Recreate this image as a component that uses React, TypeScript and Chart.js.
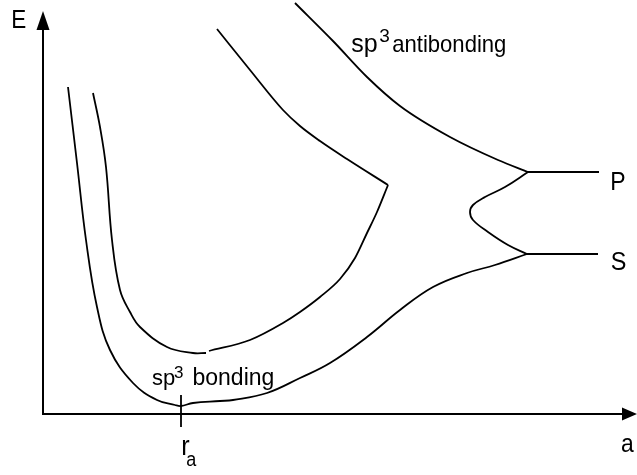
import { useEffect, useRef } from "react";
import { Chart, registerables } from "chart.js";

Chart.register(...registerables);

type Pt = [number, number];

// Energy curves E(a); origin sits at the corner of the axes.
const bondingLower: Pt[] = [
  [25, 327], [34, 251], [43, 174], [54, 107], [67, 64], [90, 31], [114, 14],
  [132, 9], [138, 8], [150, 11], [177, 13], [190, 14], [224, 21], [257, 36],
  [287, 51], [324, 77], [357, 104], [390, 127], [424, 141], [452, 149], [484, 160],
];
const bondingUpperLeft: Pt[] = [
  [50, 321], [57, 287], [63, 247], [69, 174], [77, 124], [87, 102], [97, 87],
  [124, 67], [150, 61], [163, 61],
];
const bondingUpperRight: Pt[] = [
  [166, 63], [207, 74], [240, 91], [257, 102], [277, 117], [297, 135],
  [312, 156], [324, 181], [334, 202], [345, 229],
];
const returnBranch: Pt[] = [
  [174, 385], [207, 344], [240, 304], [257, 288], [277, 273], [304, 255], [345, 229],
];
const antibonding: Pt[] = [
  [252, 411], [290, 373], [324, 337], [357, 308], [407, 277], [455, 254], [485, 242],
];
const crossing: Pt[] = [
  [485, 242], [462, 227], [442, 217], [430, 209], [427, 202], [430, 194],
  [445, 182], [465, 169], [484, 160],
];
const pLevel: Pt[] = [[485, 242], [556, 242]];
const sLevel: Pt[] = [[484, 160], [555, 160]];
const raTick: Pt[] = [[138, 19], [138, -13]];

// Axis extents
const aMin = -43;
const aMax = 594;
const eMin = -61;
const eMax = 414;
const eAxisTop = 403;

const FONT = '"Liberation Sans", Arial, Helvetica, sans-serif';

// Text pieces: position in (a, E), font size, horizontal squeeze
const textLabels: { text: string; at: Pt; size: number; sx: number }[] = [
  { text: "E", at: [-31.8, 386], size: 25, sx: 0.9 },
  { text: "P", at: [567.2, 224], size: 25, sx: 0.92 },
  { text: "S", at: [567.8, 144.5], size: 26, sx: 0.9 },
  { text: "a", at: [578, -38], size: 26, sx: 0.88 },
  { text: "r", at: [138.3, -41], size: 28, sx: 0.9 },
  { text: "a", at: [143.3, -52], size: 20, sx: 0.9 },
  { text: "sp", at: [308.2, 362.5], size: 25, sx: 1 },
  { text: "3", at: [336.2, 372], size: 19, sx: 1 },
  { text: "antibonding", at: [349.2, 362.5], size: 24, sx: 0.92 },
  { text: "sp", at: [109, 29], size: 22, sx: 1 },
  { text: "3", at: [131, 36], size: 17, sx: 1 },
  { text: "bonding", at: [149.5, 29], size: 23, sx: 1 },
];

const toXY = (pts: Pt[]) => pts.map(([x, y]) => ({ x, y }));

const curve = (pts: Pt[], mode: "monotone" | "bezier" | "straight") => ({
  data: toXY(pts),
  showLine: true,
  borderColor: "#000",
  borderWidth: 1.8,
  pointRadius: 0,
  tension: mode === "bezier" ? 0.4 : 0,
  cubicInterpolationMode: mode === "monotone" ? ("monotone" as const) : ("default" as const),
  fill: false,
  clip: false as const,
});

const axesAndText = {
  id: "axesAndText",
  afterDatasetsDraw(chart: Chart) {
    const { ctx } = chart;
    const xs = chart.scales.x;
    const ys = chart.scales.y;
    const px = (v: number) => xs.getPixelForValue(v);
    const py = (v: number) => ys.getPixelForValue(v);
    const x0 = px(0);
    const y0 = py(0);
    const xEnd = px(aMax);
    const yTop = py(eAxisTop);

    ctx.save();
    ctx.strokeStyle = "#000";
    ctx.fillStyle = "#000";
    ctx.lineWidth = 2;

    ctx.beginPath();
    ctx.moveTo(x0, y0 + 1);
    ctx.lineTo(x0, yTop + 16);
    ctx.moveTo(x0 - 1, y0);
    ctx.lineTo(xEnd - 12, y0);
    ctx.stroke();

    ctx.beginPath();
    ctx.moveTo(x0, yTop);
    ctx.lineTo(x0 + 6.5, yTop + 19);
    ctx.lineTo(x0 - 6.5, yTop + 19);
    ctx.closePath();
    ctx.fill();

    ctx.beginPath();
    ctx.moveTo(xEnd, y0);
    ctx.lineTo(xEnd - 15, y0 - 6.5);
    ctx.lineTo(xEnd - 15, y0 + 6.5);
    ctx.closePath();
    ctx.fill();

    ctx.textAlign = "left";
    ctx.textBaseline = "alphabetic";
    for (const l of textLabels) {
      ctx.save();
      ctx.translate(px(l.at[0]), py(l.at[1]));
      ctx.scale(l.sx, 1);
      ctx.font = `${l.size}px ${FONT}`;
      ctx.fillText(l.text, 0, 0);
      ctx.restore();
    }
    ctx.restore();
  },
};

export default function App() {
  const canvasRef = useRef<HTMLCanvasElement | null>(null);

  useEffect(() => {
    document.body.style.margin = "0";
    const canvas = canvasRef.current;
    if (!canvas) return;
    const chart = new Chart(canvas, {
      type: "scatter",
      data: {
        datasets: [
          curve(bondingLower, "bezier"),
          curve(bondingUpperLeft, "bezier"),
          curve(bondingUpperRight, "monotone"),
          curve(returnBranch, "monotone"),
          curve(antibonding, "monotone"),
          curve(crossing, "bezier"),
          curve(pLevel, "straight"),
          curve(sLevel, "straight"),
          curve(raTick, "straight"),
        ],
      },
      options: {
        animation: false,
        responsive: false,
        devicePixelRatio: 1,
        layout: { padding: 0 },
        plugins: {
          legend: { display: false },
          tooltip: { enabled: false },
        },
        scales: {
          x: { type: "linear", min: aMin, max: aMax, display: false },
          y: { type: "linear", min: eMin, max: eMax, display: false },
        },
      },
      plugins: [axesAndText],
    });
    return () => chart.destroy();
  }, []);

  return (
    <div style={{ width: 637, height: 475, background: "#fff" }}>
      <canvas ref={canvasRef} width={637} height={475} style={{ display: "block" }} />
    </div>
  );
}
